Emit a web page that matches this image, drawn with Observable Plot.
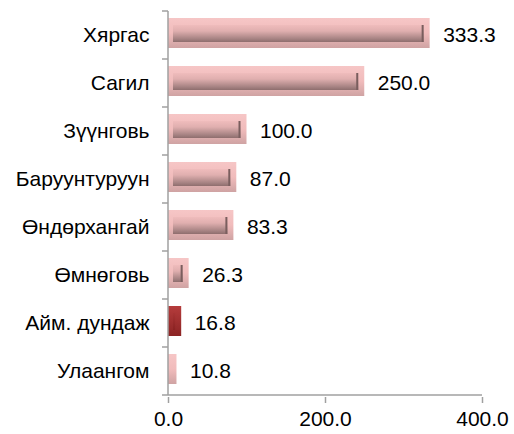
<!DOCTYPE html>
<html>
<head>
<meta charset="utf-8">
<script src="https://cdn.jsdelivr.net/npm/d3@7"></script>
<script src="https://cdn.jsdelivr.net/npm/@observablehq/plot@0.6"></script>
<style>
  html, body { margin: 0; padding: 0; background: #fff; }
  svg { display: block; }
</style>
</head>
<body>
<div id="chart"></div>
<script>
const categories = ["Хяргас", "Сагил", "Зүүнговь", "Баруунтуруун", "Өндөрхангай", "Өмнөговь", "Айм. дундаж", "Улаангом"];
const values = [333.3, 250.0, 100.0, 87.0, 83.3, 26.3, 16.8, 10.8];
const highlight = "Айм. дундаж";
const xTicks = [0, 200, 400];

const data = categories.map((c, i) => ({ name: c, value: values[i], hl: c === highlight }));
const normal = data.filter(d => !d.hl && d.value >= 20);
const AXIS = "#a0a0a0";

const axisLines = (index, scales, values, dims) => {
  const g = d3.create("svg:g");
  const y = scales.y;
  const bw = y.bandwidth();
  const step = y.step();
  const pad = (step - bw) / 2;
  const x0 = scales.x(0);
  const x1 = scales.x(400);
  const ys = categories.map(c => y(c) - pad);
  const yb = y(categories[categories.length - 1]) + bw + pad;
  ys.push(yb);
  for (const yy of ys) {
    g.append("line").attr("x1", x0 - 6).attr("x2", x0).attr("y1", yy).attr("y2", yy)
      .attr("stroke", AXIS).attr("stroke-width", 1.5);
  }
  g.append("line").attr("x1", x0).attr("x2", x0).attr("y1", ys[0]).attr("y2", yb)
    .attr("stroke", AXIS).attr("stroke-width", 1.5);
  g.append("line").attr("x1", x0).attr("x2", x1).attr("y1", yb).attr("y2", yb)
    .attr("stroke", AXIS).attr("stroke-width", 1.5);
  return g.node();
};

const plot = Plot.plot({
  width: 514,
  height: 434,
  marginLeft: 168,
  marginRight: 32,
  marginTop: 8,
  marginBottom: 37,
  style: { fontFamily: "Liberation Sans, Arial, sans-serif", fontSize: "21px", background: "#fff", color: "#000" },
  x: { domain: [0, 400], label: null },
  y: { domain: categories, paddingInner: 0.38, paddingOuter: 0.19, label: null },
  marks: [
    Plot.barX(data, { y: "name", x: "value", dy: -2, fill: d => d.hl ? "url(#gradDarkOuter)" : "url(#gradOuter)" }),
    Plot.barX(data, { y: "name", x: "value", dy: -2, fill: d => d.hl ? "url(#gradDarkInner)" : "url(#gradInner)",
      insetTop: 7, insetBottom: 6, insetLeft: 5, insetRight: 6 }),
    Plot.barX(normal, { y: "name", x1: "value", x2: "value", dy: -2, fill: "#7a5e5e",
      insetTop: 7, insetBottom: 6, insetLeft: -8, insetRight: 6 }),
    Plot.text(data, { y: "name", x: "value", text: d => d.value.toFixed(1), textAnchor: "start", dx: 13,
      fontSize: 21, fill: "#000" }),
    Plot.axisY({ tickSize: 0, tickPadding: 19, fontSize: 21, fill: "#000" }),
    Plot.axisX({ ticks: xTicks, tickFormat: d => d.toFixed(1), tickSize: 6, tickPadding: 8, fontSize: 21,
      fill: "#000", stroke: AXIS, strokeWidth: 1.5 }),
    axisLines
  ]
});

const defs = d3.select(plot).insert("defs", ":first-child");
function grad(id, stops) {
  const g = defs.append("linearGradient").attr("id", id).attr("x1", 0).attr("x2", 0).attr("y1", 0).attr("y2", 1);
  stops.forEach(([o, c]) => g.append("stop").attr("offset", o).attr("stop-color", c));
}
grad("gradOuter", [[0, "#f6c6c6"], [0.5, "#f1bcbc"], [1, "#cfa3a3"]]);
grad("gradInner", [[0, "#efbcbc"], [0.35, "#e0afaf"], [0.8, "#a88484"], [1, "#8e6e6e"]]);
grad("gradDarkOuter", [[0, "#b53c3c"], [1, "#8c2424"]]);
grad("gradDarkInner", [[0, "#a83434"], [1, "#8a2222"]]);

document.getElementById("chart").appendChild(plot);
</script>
</body>
</html>
